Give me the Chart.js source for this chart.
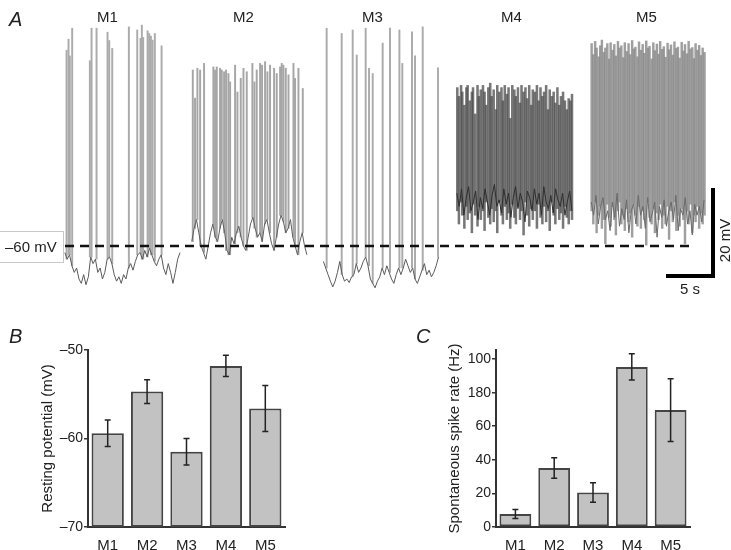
<!DOCTYPE html>
<html>
<head>
<meta charset="utf-8">
<script src="https://cdn.jsdelivr.net/npm/chart.js@4.4.1/dist/chart.umd.min.js"></script>
<style>
  body { margin: 0; background: #fff; }
  #wrap { position: relative; width: 731px; height: 550px; overflow: hidden; font-family: 'Liberation Sans', Arial, sans-serif; color: #222; }
  canvas { position: absolute; }
  .lbl { position: absolute; white-space: nowrap; line-height: 1; }
  .panel { font-style: italic; font-size: 20px; }
</style>
</head>
<body>
<div id="wrap">
  <canvas id="traceChart" width="731" height="300" style="left:0;top:0"></canvas>
  <canvas id="restChart" width="380" height="230" style="left:0;top:320px"></canvas>
  <canvas id="rateChart" width="351" height="230" style="left:380px;top:320px"></canvas>

  <div class="lbl panel" style="left:9px;top:9px">A</div>
  <div class="lbl panel" style="left:9px;top:326px">B</div>
  <div class="lbl panel" style="left:416px;top:326px">C</div>

  <div class="lbl" style="left:97px;top:9px;font-size:15px">M1</div>
  <div class="lbl" style="left:233px;top:9px;font-size:15px">M2</div>
  <div class="lbl" style="left:362px;top:9px;font-size:15px">M3</div>
  <div class="lbl" style="left:501px;top:9px;font-size:15px">M4</div>
  <div class="lbl" style="left:636px;top:9px;font-size:15px">M5</div>

  <div class="lbl" style="left:0;top:231px;width:63px;height:30px;border:1px solid #c8c8c8;border-left:none"></div>
  <div class="lbl" style="left:5px;top:239px;font-size:15px">–60 mV</div>
  <div class="lbl" style="left:680px;top:281px;font-size:15px">5 s</div>
  <div class="lbl" style="left:702px;top:233px;font-size:15px;transform:rotate(-90deg);transform-origin:center;width:44px;height:15px;text-align:center">20 mV</div>
</div>

<script>
// ---------- panel A: example traces (time in s, voltage in mV) ----------
const traceNames = ["M1", "M2", "M3", "M4", "M5"];
const baseStep = 0.25;

const m1Base = [-61.5,-63,-62,-64.5,-66,-65,-67.5,-68.5,-66.5,-68.8,-67,-62.5,-64,-63,-66,-65,-67.5,-66,-63,-62.5,
  -64,-66.5,-68,-67,-68.5,-66.5,-67.5,-65,-64,-65.5,-63.5,-62,-61.5,-63,-61,-62.5,-60.5,-62,-63.5,-64.5,
  -63,-62,-65,-66.5,-64,-66,-68.5,-66,-63,-61.5];
const m1SpikeTimes = [0.18,0.39,0.53,0.78,2.66,2.84,3.37,4.54,4.72,5.04,6.81,7.70,8.05,8.19,8.33,8.80,8.97,9.15,9.33,9.57,10.29];
const m1SpikePeaks = [-15.5,-13.0,-16.8,-10.5,-17.9,-10.5,-10.5,-11.4,-13.3,-15.1,-10.2,-10.9,-12.8,-9.8,-12.6,-11.1,-11.7,-12.3,-13.2,-11.7,-14.5];

const m2Base = [-59,-56,-54,-57,-60,-61.5,-63,-60,-57,-55,-58,-59,-56,-54,-57,-61,-62,-58,-59.5,-57,
  -55.5,-58,-60,-61,-58,-55,-53.5,-56,-58,-57,-59,-55,-54,-57,-59.5,-61,-58,-55,-53,-54.5,
  -57,-56,-54,-58,-60,-62,-59,-57,-60,-62];
const m2SpikeTimes = [0.11,0.35,0.60,0.89,1.31,2.30,2.48,2.66,3.01,3.19,3.44,3.65,3.90,4.08,4.61,4.86,5.21,5.50,5.85,6.45,
  6.67,6.91,7.27,7.48,7.80,8.05,8.33,8.76,9.04,9.40,9.57,9.75,10.0,10.29,10.82,10.99,11.35,11.81];
const m2SpikePeaks = [-20.0,-26.4,-19.6,-20.0,-18.5,-19.3,-20.0,-19.3,-19.6,-20.0,-20.4,-20.0,-20.8,-22.7,-18.9,-25.0,-21.9,-19.6,-20.4,-18.5,
  -22.7,-20.0,-18.5,-18.9,-18.1,-20.4,-18.9,-19.6,-20.8,-19.3,-18.5,-18.9,-19.6,-21.1,-18.5,-21.9,-19.6,-24.2];

const m3Base = [-63.5,-65,-66.5,-68,-69.3,-68,-66,-63.5,-66.5,-68,-67.5,-68.3,-67,-66.5,-64,-66,-65,-63.5,-62.5,-64.5,
  -67.5,-68.5,-69.5,-68,-67,-65,-66.5,-64.5,-66,-67.5,-68.5,-66.5,-65,-66.5,-65,-63,-64.5,-66,-65,-67.5,
  -68.5,-67,-65.5,-64,-66.5,-65.5,-67,-66,-64.5,-62.5];
const m3SpikeTimes = [0.35,1.95,3.12,3.55,4.50,4.86,5.25,6.31,7.09,8.09,8.40,9.43,9.75,10.57,12.2];
const m3SpikePeaks = [-10.5,-11.7,-10.9,-16.6,-10.5,-19.6,-20.8,-13.9,-10.5,-10.9,-18.5,-11.3,-16.8,-10.2,-19.5];

const m4Base = [-48,-51,-47,-53,-49,-46.5,-52,-50,-47.5,-54,-49,-51.5,-47,-50,-53,-48.5,-46,-51,-49.5,-52.5,
  -47,-50.5,-48,-53.5,-49,-46.5,-51.5,-48,-50,-54.5,-47.5,-49,-52,-47,-50.5,-48,-53,-46.5,-50,-51.5,
  -48.5,-52.5,-47,-49.5,-51,-48,-53,-50,-47.5,-52];
const m4SpikeTimes = [0.05,0.22,0.45,0.58,0.8,1.02,1.15,1.38,1.6,1.72,1.95,2.2,2.35,2.55,2.78,2.95,3.12,3.35,3.55,3.7,
  3.92,4.15,4.3,4.52,4.75,4.9,5.1,5.32,5.5,5.68,5.9,6.12,6.28,6.5,6.72,6.88,7.1,7.3,7.48,7.7,
  7.92,8.08,8.3,8.52,8.7,8.9,9.1,9.28,9.5,9.7,9.88,10.1,10.3,10.48,10.7,10.9,11.08,11.3,11.5,11.7,
  11.9,12.1,12.25];
const m4SpikePeaks = [-24,-26,-23.5,-25,-28,-24,-23.5,-27,-25,-24,-30,-23.5,-26,-24.5,-23.5,-25,-28,-24,-23,-26,
  -24.5,-29,-23.5,-25,-24,-27,-23.5,-25.5,-24,-31,-23.5,-24.5,-26,-24,-27.5,-23.5,-25,-24,-26.5,-23.5,
  -28,-24.5,-25,-23.5,-27,-24,-26,-25,-23.5,-29,-24.5,-26,-25,-27.5,-24,-28,-26,-25,-27,-29,
  -26.5,-27,-25.5];
const m4SpikeTroughs = [-52,-55,-50,-53,-56,-51,-54,-52.5,-57,-50.5,-53,-55.5,-51,-54,-52,-56.5,-50,-53.5,-55,-51.5,
  -54.5,-52,-57,-50,-53,-55,-51,-54,-52.5,-56,-50.5,-53.5,-55,-51,-54,-52,-57.5,-50,-53,-55.5,
  -51.5,-54,-52,-56,-50.5,-53.5,-55,-51,-54.5,-52,-56.5,-50,-53,-55,-51.5,-54,-52.5,-56,-51,-53.5,
  -55,-52,-54];

const m5Base = [-50,-53,-48.5,-55,-51,-49,-54,-52,-56.5,-50,-53.5,-48,-55.5,-51.5,-54,-49.5,-57,-52,-50.5,-55,
  -48.5,-53,-51,-56,-49,-54.5,-52.5,-50,-58,-51,-53.5,-49.5,-55.5,-52,-50,-54,-48.5,-56.5,-51.5,-53,
  -49,-55,-52,-57.5,-50.5,-53,-51,-54.5,-49.5];
const m5SpikeTimes = [0.04,0.22,0.41,0.57,0.78,0.95,1.13,1.34,1.5,1.71,1.9,2.06,2.27,2.45,2.62,2.84,3.0,3.2,3.41,3.57,
  3.78,3.97,4.13,4.35,4.52,4.7,4.91,5.08,5.28,5.47,5.63,5.85,6.03,6.2,6.42,6.6,6.77,6.98,7.16,7.33,
  7.55,7.72,7.9,8.12,8.28,8.48,8.67,8.85,9.05,9.22,9.4,9.62,9.8,9.97,10.18,10.36,10.55,10.75,10.92,11.1,
  11.3,11.48,11.67,11.85,12.05];
const m5SpikePeaks = [-14,-16.5,-13.5,-15,-17,-14.5,-13.2,-16,-15,-14,-17.5,-13.8,-15.5,-14.2,-16.8,-13.5,-15,-14.5,-17.2,-13.8,
  -15.8,-14,-16.5,-13.3,-15.2,-14.8,-17,-13.6,-15.5,-14.2,-16.2,-13.4,-15,-14.6,-17.5,-13.8,-15.6,-14.1,-16.4,-13.5,
  -15.3,-14.7,-17.1,-13.9,-15.4,-14.3,-16.6,-13.6,-15.1,-14.8,-17.3,-13.7,-15.7,-14.2,-16.3,-13.5,-15.2,-14.9,-17.4,-14,
  -15.5,-14.4,-16.7,-15,-16];
const m5SpikeTroughs = [-52,-55,-50,-57,-53,-51,-56,-54,-59.5,-50.5,-53.5,-55.5,-51,-54,-57.5,-52,-50,-55,-53,-56.5,
  -51.5,-54.5,-52.5,-58,-50.5,-53,-55.5,-51,-56,-52,-54,-59.8,-50,-53.5,-55,-51.5,-57,-52.5,-54,-50.5,
  -56,-53,-55,-51,-58.5,-52,-54.5,-50,-56.5,-53,-55.5,-51.5,-54,-59.5,-52,-55,-50.5,-57,-53,-54.5,
  -51,-56,-52.5,-55,-53];

// where each trace sits on the shared time axis (s)
const traceStarts = [6.9, 20.4, 34.4, 48.6, 62.9];

// ---------- panels B and C ----------
const groups = ["M1", "M2", "M3", "M4", "M5"];
const restValues = [-59.4, -54.7, -61.5, -51.8, -56.6];
const restErrors = [1.5, 1.35, 1.5, 1.2, 2.6];
const restTickValues = [-70, -60, -50];
const restTickLabels = ["–70", "–60", "–50"];

const rateValues = [7.7, 35.1, 20.6, 95.3, 69.6];
const rateErrors = [2.7, 6.1, 5.8, 7.8, 18.7];
const rateTickValues = [0, 20, 40, 60, 80, 100];
const rateTickLabels = ["0", "20", "40", "60", "180", "100"];

Chart.defaults.font.family = "'Liberation Sans', Arial, sans-serif";
Chart.defaults.color = '#222';

// helpers
function baseLine(vals, start) {
    return vals.map((v, i) => ({ x: start + i * baseStep, y: v }));
}
function spikesFromBase(times, peaks, base, start) {
    const out = [];
    for (let i = 0; i < Math.min(times.length, peaks.length); i++) {
        const k = Math.min(base.length - 1, Math.round(times[i] / baseStep));
        out.push({ x: start + times[i], y: [base[k], peaks[i]] });
    }
    return out;
}
function spikesRange(times, peaks, troughs, start) {
    const n = Math.min(times.length, peaks.length, troughs.length);
    const out = [];
    for (let i = 0; i < n; i++) out.push({ x: start + times[i], y: [troughs[i], peaks[i]] });
    return out;
}
function spikeSet(data, color, thick) {
    return { type: 'bar', data: data, backgroundColor: color, borderWidth: 0, barThickness: thick, grouped: false, order: 2 };
}
function traceSet(data, color) {
    return { type: 'line', data: data, borderColor: color, borderWidth: 1, pointRadius: 0, tension: 0, order: 1 };
}

// pixel geometry of the trace panel: 9.4 px per s, 4.4 px per mV, -60 mV at y=246
const pxPerS = 9.4, pxPerMv = 4.4;
const xMax = 731 / pxPerS;
const yMax = -60 + 246 / pxPerMv;
const yMin = -60 - 54 / pxPerMv;

new Chart(document.getElementById('traceChart').getContext('2d'), {
    type: 'line',
    data: {
        datasets: [
            spikeSet(spikesFromBase(m1SpikeTimes, m1SpikePeaks, m1Base, traceStarts[0]), '#ababab', 1.3),
            traceSet(baseLine(m1Base, traceStarts[0]), '#5a5a5a'),
            spikeSet(spikesFromBase(m2SpikeTimes, m2SpikePeaks, m2Base, traceStarts[1]), '#a6a6a6', 1.3),
            traceSet(baseLine(m2Base, traceStarts[1]), '#5f5f5f'),
            spikeSet(spikesFromBase(m3SpikeTimes, m3SpikePeaks, m3Base, traceStarts[2]), '#ababab', 1.3),
            traceSet(baseLine(m3Base, traceStarts[2]), '#5a5a5a'),
            spikeSet(spikesRange(m4SpikeTimes, m4SpikePeaks, m4SpikeTroughs, traceStarts[3]), 'rgba(75,75,75,0.75)', 1.9),
            traceSet(baseLine(m4Base, traceStarts[3]), '#2e2e2e'),
            spikeSet(spikesRange(m5SpikeTimes, m5SpikePeaks, m5SpikeTroughs, traceStarts[4]), 'rgba(135,135,135,0.8)', 1.8),
            traceSet(baseLine(m5Base, traceStarts[4]), '#6a6a6a'),
            {   // -60 mV reference
                type: 'line',
                data: [{ x: 65 / pxPerS, y: -60 }, { x: 690 / pxPerS, y: -60 }],
                borderColor: '#111', borderWidth: 2.5, borderDash: [9, 6], pointRadius: 0, order: 0
            },
            {   // scale bar: 5 s by 20 mV
                type: 'line',
                data: [{ x: 713 / pxPerS - 5, y: -66.8 }, { x: 713 / pxPerS, y: -66.8 }, { x: 713 / pxPerS, y: -46.8 }],
                borderColor: '#000', borderWidth: 4, pointRadius: 0, borderJoinStyle: 'miter', order: 0
            }
        ]
    },
    options: {
        responsive: false,
        animation: false,
        layout: { padding: 0 },
        scales: {
            x: { type: 'linear', min: 0, max: xMax, offset: false, display: false },
            y: { type: 'linear', min: yMin, max: yMax, display: false }
        },
        plugins: { legend: { display: false }, tooltip: { enabled: false } }
    }
});

// error bar plugin for the bar panels
const errorBars = {
    id: 'errorBars',
    afterDatasetsDraw(chart, args, opts) {
        const ctx = chart.ctx;
        const meta = chart.getDatasetMeta(0);
        const y = chart.scales.y;
        ctx.save();
        ctx.strokeStyle = '#222';
        ctx.lineWidth = 1.5;
        opts.values.forEach((v, i) => {
            const x = meta.data[i].x;
            const top = y.getPixelForValue(v + opts.errors[i]);
            const bot = y.getPixelForValue(v - opts.errors[i]);
            ctx.beginPath();
            ctx.moveTo(x, top); ctx.lineTo(x, bot);
            ctx.moveTo(x - 3, top); ctx.lineTo(x + 3, top);
            ctx.moveTo(x - 3, bot); ctx.lineTo(x + 3, bot);
            ctx.stroke();
        });
        ctx.restore();
    }
};

function barPanel(canvasId, values, errors, min, max, tickValues, tickLabels, title, axisWidth, titlePad, rightPad, floatBase) {
    new Chart(document.getElementById(canvasId).getContext('2d'), {
        type: 'bar',
        data: {
            labels: groups,
            datasets: [{
                data: floatBase ? values.map(v => [min, v]) : values,
                backgroundColor: '#c2c2c2',
                borderColor: '#444',
                borderWidth: 2,
                borderSkipped: false,
                categoryPercentage: 1,
                barPercentage: 0.82
            }]
        },
        options: {
            responsive: false,
            animation: false,
            layout: { padding: { left: 0, right: rightPad, top: 30, bottom: 0 } },
            scales: {
                x: {
                    grid: { display: false },
                    border: { display: true, color: '#333', width: 2 },
                    ticks: { color: '#222', font: { size: 15 }, padding: 2 },
                    afterFit: s => { s.height = 23; }
                },
                y: {
                    min: min,
                    max: max,
                    afterBuildTicks: s => { s.ticks = tickValues.map(v => ({ value: v })); },
                    grid: { display: true, drawOnChartArea: false, drawTicks: true, tickLength: 4, color: '#333', lineWidth: 1.5 },
                    border: { display: true, color: '#333', width: 2 },
                    ticks: { color: '#222', font: { size: 14 }, padding: 1, callback: (v, i) => tickLabels[i] },
                    title: { display: true, text: title, color: '#222', font: { size: 15 }, padding: { top: titlePad, bottom: 0 } },
                    afterFit: s => { s.width = axisWidth; }
                }
            },
            plugins: {
                legend: { display: false },
                tooltip: { enabled: false },
                errorBars: { values: values, errors: errors }
            }
        },
        plugins: [errorBars]
    });
}

barPanel('restChart', restValues, restErrors, -70, -50, restTickValues, restTickLabels,
    'Resting potential (mV)', 88, 39, 95, true);
barPanel('rateChart', rateValues, rateErrors, 0, 105.4, rateTickValues, rateTickLabels,
    'Spontaneous spike rate (Hz)', 116, 66, 41, false);
</script>
</body>
</html>
